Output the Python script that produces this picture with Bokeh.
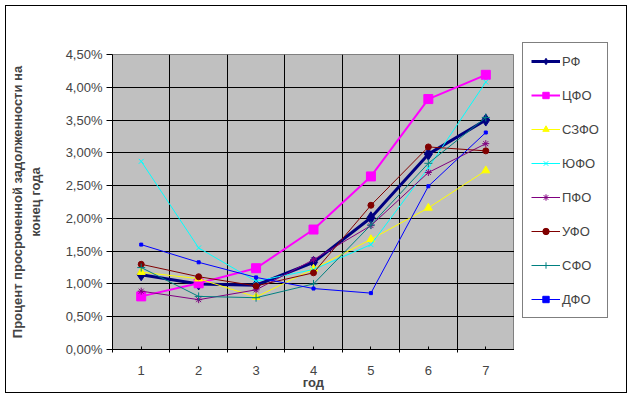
from bokeh.plotting import figure
from bokeh.models import FixedTicker, Legend, LegendItem, Range1d, Title
from bokeh.layouts import column, row
from bokeh.embed import file_html
from bokeh.resources import INLINE

years = [1, 2, 3, 4, 5, 6, 7]
x_labels = ["1", "2", "3", "4", "5", "6", "7"]

rf = [1.14, 1.00, 0.98, 1.33, 2.01, 2.98, 3.50]
cfo = [0.81, 1.01, 1.24, 1.83, 2.64, 3.82, 4.19]
szfo = [1.18, 1.08, 0.80, 1.23, 1.68, 2.16, 2.73]
yufo = [2.87, 1.55, 1.04, 1.22, 1.60, 2.77, 4.08]
pfo = [0.89, 0.76, 0.91, 1.37, 1.89, 2.70, 3.14]
ufo = [1.30, 1.11, 0.97, 1.17, 2.20, 3.09, 3.03]
sfo = [1.25, 0.81, 0.79, 1.00, 1.90, 2.84, 3.54]
dfo = [1.60, 1.33, 1.10, 0.93, 0.86, 2.49, 3.31]

series_names = ["РФ", "ЦФО", "СЗФО", "ЮФО", "ПФО", "УФО", "СФО", "ДФО"]
series_values = [rf, cfo, szfo, yufo, pfo, ufo, sfo, dfo]

y_ticks = [0.0, 0.5, 1.0, 1.5, 2.0, 2.5, 3.0, 3.5, 4.0, 4.5]
y_tick_labels = ["0,00%", "0,50%", "1,00%", "1,50%", "2,00%", "2,50%",
                 "3,00%", "3,50%", "4,00%", "4,50%"]

y_title_lines = ["Процент просроченной задолженности на", "конец года"]
x_title = "год"

styles = [
    dict(color="#000080", lw=3, marker="diamond", size=12),
    dict(color="#FF00FF", lw=2, marker="square", size=9),
    dict(color="#FFFF00", lw=1, marker="triangle", size=8),
    dict(color="#00FFFF", lw=1, marker="x", size=7),
    dict(color="#800080", lw=1, marker="asterisk", size=7),
    dict(color="#800000", lw=1, marker="circle", size=6),
    dict(color="#008080", lw=1, marker="cross", size=8),
    dict(color="#0000FF", lw=1, marker="square", size=3),
]

FONT = "Liberation Sans"

p = figure(width=508, height=386, output_backend="svg", toolbar_location=None,
           x_range=Range1d(0.5, 7.5), y_range=Range1d(0, 4.5),
           min_border_left=106, min_border_right=0,
           min_border_top=48, min_border_bottom=43)
p.frame_align = False

p.background_fill_color = "#C0C0C0"
p.border_fill_color = "white"
p.outline_line_color = "#808080"
p.outline_line_width = 1

# grids
p.xgrid.ticker = FixedTicker(ticks=[1.5, 2.5, 3.5, 4.5, 5.5, 6.5])
p.xgrid.grid_line_color = "black"
p.xgrid.grid_line_width = 1
p.ygrid.ticker = FixedTicker(ticks=y_ticks[1:])
p.ygrid.grid_line_color = "black"
p.ygrid.grid_line_width = 1

# x axis
xa = p.xaxis[0]
xa.ticker = FixedTicker(ticks=years, minor_ticks=[0.5, 1.5, 2.5, 3.5, 4.5, 5.5, 6.5, 7.5])
xa.major_label_overrides = {y: l for y, l in zip(years, x_labels)}
xa.major_tick_in = 3
xa.major_tick_out = 0
xa.minor_tick_in = 3
xa.minor_tick_out = 3
xa.major_label_standoff = 13
xa.axis_label = x_title
xa.axis_label_text_font_style = "bold"
xa.axis_label_text_font_size = "13px"
xa.axis_label_text_font = FONT
xa.axis_label_standoff = -3
xa.major_label_text_font = FONT
xa.major_label_text_font_size = "13px"
xa.axis_line_color = "black"
xa.major_tick_line_color = "black"
xa.minor_tick_line_color = "black"

# y axis
ya = p.yaxis[0]
ya.ticker = FixedTicker(ticks=y_ticks, minor_ticks=[])
ya.major_label_overrides = {t: l for t, l in zip(y_ticks, y_tick_labels)}
ya.major_tick_in = 0
ya.major_tick_out = 6
ya.major_label_standoff = 4
ya.major_label_text_font = FONT
ya.major_label_text_font_size = "13px"
ya.axis_line_color = "black"
ya.major_tick_line_color = "black"
# inner line of the y title on the axis itself, outer line as a Title
ya.axis_label = y_title_lines[1]
ya.axis_label_text_font = FONT
ya.axis_label_text_font_size = "13px"
ya.axis_label_text_font_style = "bold"
ya.axis_label_standoff = 20

t = Title(text=y_title_lines[0], align="center", text_font=FONT, text_font_size="13px",
          text_font_style="bold", standoff=0, offset=0)
p.add_layout(t, "left")

for name, vals, st in zip(series_names, series_values, styles):
    p.line(years, vals, line_color=st["color"], line_width=st["lw"])
    p.scatter(years, vals, marker=st["marker"], size=st["size"],
              fill_color=st["color"], line_color=st["color"], line_width=1)

# legend panel (separate figure so that nothing is clipped)
pl = figure(width=112, height=386, output_backend="svg", toolbar_location=None,
            x_range=Range1d(0, 1), y_range=Range1d(0, 1),
            min_border_left=0, min_border_right=0, min_border_top=0, min_border_bottom=0)
pl.frame_align = False
pl.axis.visible = False
pl.grid.visible = False
pl.outline_line_color = None
pl.background_fill_color = "white"
pl.border_fill_color = "white"

items = []
for name, st in zip(series_names, styles):
    l = pl.line([-5, -4], [-5, -4], line_color=st["color"], line_width=st["lw"])
    s = pl.scatter([-5], [-5], marker=st["marker"], size=st["size"],
                   fill_color=st["color"], line_color=st["color"], line_width=1)
    items.append(LegendItem(label=name, renderers=[l, s]))

legend = Legend(items=items, location=(8, 74))
legend.label_text_font = FONT
legend.label_text_font_size = "13px"
legend.glyph_width = 29
legend.glyph_height = 16
legend.label_height = 20
legend.label_standoff = 2
legend.spacing = 14
legend.padding = 8
legend.margin = 0
legend.border_line_color = "black"
legend.border_line_width = 1
legend.background_fill_color = "white"
legend.background_fill_alpha = 1
pl.add_layout(legend, "center")

layout = column(row(p, pl), margin=(5, 5, 5, 5), styles={"border": "1px solid black"})

open("out.html", "w").write(file_html(layout, INLINE))
